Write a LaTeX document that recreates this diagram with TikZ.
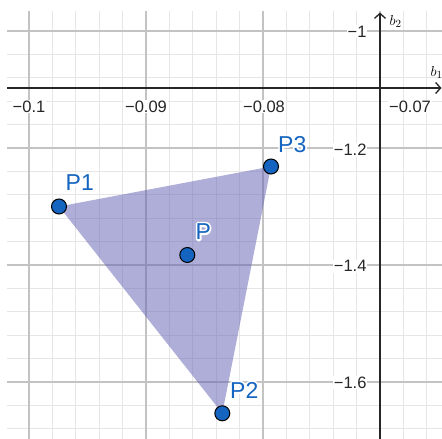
\documentclass[tikz,border=0pt]{standalone}
\usepackage{fontspec}
\setmainfont{Liberation Sans}
\usetikzlibrary{arrows.meta}
\definecolor{ggblue}{RGB}{21,101,192}
\definecolor{polyfill}{RGB}{95,95,180}
\definecolor{minorcol}{RGB}{230,230,230}
\definecolor{majorcol}{RGB}{195,195,195}
\newcommand{\halostroke}[1]{\special{pdf:literal direct 1 1 1 RG 3.6 w 1 j 2 Tr}#1\special{pdf:literal direct 0 Tr}}
\newcommand{\halotext}[3]{%
  \node[ptlabel, text=white] at (#2) {\halostroke{#3}};
  \node[ptlabel, text=ggblue] (#1) at (#2) {#3};}
\begin{document}
\begin{tikzpicture}[x=1pt,y=-1pt,
  minorgrid/.style={draw=minorcol, line width=1pt},
  majorgrid/.style={draw=majorcol, line width=1.2pt},
  axisline/.style={draw=black!85, line width=1.3pt},
  ticklabel/.style={font=\fontsize{16.5}{16.5}\selectfont, text=black!85, fill=white, inner sep=0.8pt},
  axislabel/.style={font=\fontsize{15}{15}\selectfont, inner sep=0pt, anchor=base west},
  ptlabel/.style={font=\fontsize{23}{23}\selectfont, inner sep=0pt, anchor=base west},
  ptdot/.style={circle, fill=ggblue, draw=black, line width=1pt, minimum size=15pt, inner sep=0pt}]
\useasboundingbox (0,0) rectangle (442,439);
\fill[white] (0,0) rectangle (442,439);
% grid
\foreach \k in {0,...,17} {
  \draw[minorgrid] ({29+23.4*\k},11) -- ({29+23.4*\k},439);
  \draw[minorgrid] (7,{31+23.4*\k}) -- (442,{31+23.4*\k});
}
\foreach \k in {0,5,10,15} {
  \draw[majorgrid] ({29+23.4*\k},11) -- ({29+23.4*\k},439);
  \draw[majorgrid] (7,{31+23.4*\k}) -- (442,{31+23.4*\k});
}
% triangle
\coordinate (c1) at (59,206.5);
\coordinate (c2) at (222.3,413.3);
\coordinate (c3) at (271,166.5);
\coordinate (cp) at (187.3,255);
\fill[polyfill, fill opacity=0.5] (c1) -- (c3) -- (c2) -- cycle;
% axes
\coordinate (xs) at (7,88);
\coordinate (xe) at (441.5,88);
\coordinate (ys) at (380,439);
\coordinate (ye) at (380,12.5);
\draw[axisline, -{Straight Barb[length=5pt,width=11pt]}] (xs) -- (xe);
\draw[axisline, -{Straight Barb[length=5pt,width=11pt]}] (ys) -- (ye);
\node[axislabel] (b2) at (389.5,25) {$b_2$};
\node[axislabel] (b1) at (430.5,76.5) {$b_1$};
% tick labels
\node[ticklabel, anchor=base] (tx1) at (29,112) {−0.1};
\node[ticklabel, anchor=base] (tx2) at (146,112) {−0.09};
\node[ticklabel, anchor=base] (tx3) at (264,112) {−0.08};
\node[ticklabel, anchor=base] (tx4) at (410,112) {−0.07};
\node[ticklabel, anchor=base east] (ty1) at (367.5,37.3) {−1};
\node[ticklabel, anchor=base east] (ty2) at (367.5,155.7) {−1.2};
\node[ticklabel, anchor=base east] (ty3) at (367.5,271.7) {−1.4};
\node[ticklabel, anchor=base east] (ty4) at (367.5,388.3) {−1.6};
% points
\node[ptdot] (P1) at (c1) {};
\node[ptdot] (P2) at (c2) {};
\node[ptdot] (P3) at (c3) {};
\node[ptdot] (P) at (cp) {};
% labels
\halotext{lP1}{65.5,190.7}{P1}
\halotext{lP3}{278,152.3}{P3}
\halotext{lP}{195.5,239.5}{P}
\halotext{lP2}{230,398.3}{P2}
\end{tikzpicture}
\end{document}
